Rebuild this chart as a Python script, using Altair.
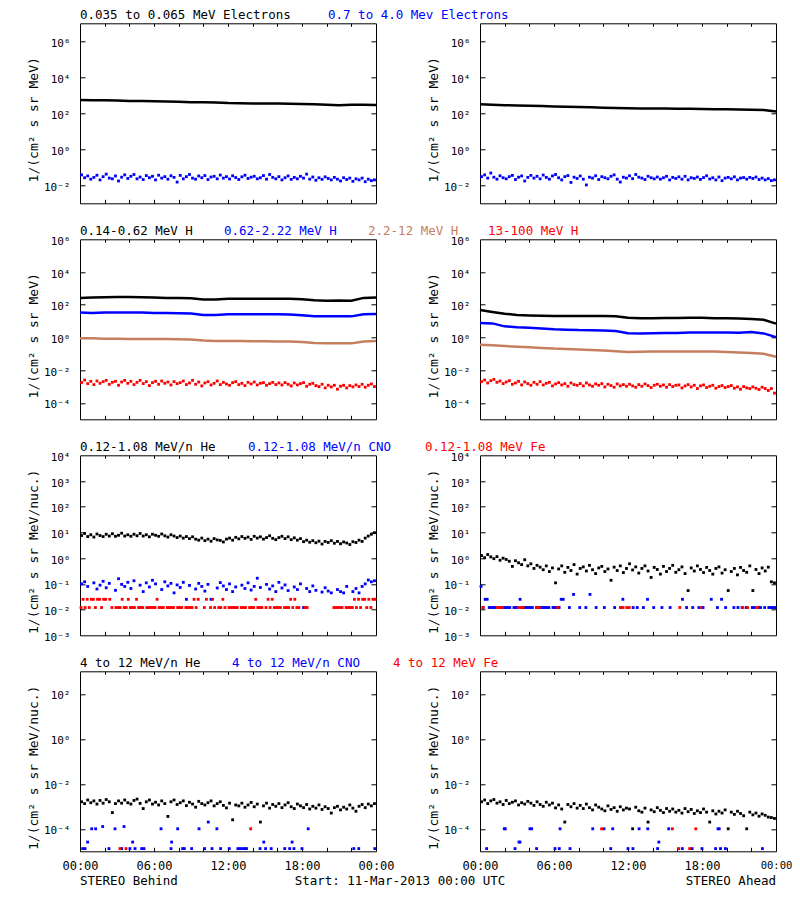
import altair as alt
import pandas as pd

MONO = "DejaVu Sans Mono"
W, H = 296, 180

BLACK, BLUE, BROWN, RED = "#000000", "#0000ff", "#c57f5f", "#ff0000"

# ---------------- time grids (hours after 11-Mar-2013 00:00 UTC) ----------------
HOURLY = list(range(25))
Q15 = [(i + 0.5) * 0.25 for i in range(96)]
M10 = [(i + 0.5) / 6 for i in range(144)]

# ---------------- Row 1: electrons (log10 flux) ----------------
B_E_LOW = [2.74, 2.73, 2.72, 2.71, 2.69, 2.68, 2.67, 2.66, 2.64, 2.62, 2.61, 2.60, 2.57,
           2.56, 2.55, 2.55, 2.54, 2.53, 2.52, 2.50, 2.47, 2.45, 2.47, 2.47, 2.46]
A_E_LOW = [2.50, 2.48, 2.45, 2.44, 2.42, 2.40, 2.38, 2.36, 2.35, 2.33, 2.31, 2.30, 2.28,
           2.27, 2.27, 2.26, 2.25, 2.25, 2.24, 2.23, 2.22, 2.21, 2.20, 2.18, 2.10]
B_E_HIGH = [-1.42, -1.58, -1.48, -1.66, -1.56, -1.44, -1.70, -1.52, -1.38, -1.60, -1.64, -1.48, -1.76, -1.55, -1.42, -1.62,
            -1.50, -1.40, -1.64, -1.54, -1.68, -1.46, -1.58, -1.50, -1.70, -1.44, -1.60, -1.52, -1.66, -1.47, -1.56, -1.82,
            -1.45, -1.64, -1.52, -1.40, -1.60, -1.66, -1.48, -1.58, -1.46, -1.68, -1.54, -1.50, -1.64, -1.43, -1.60, -1.52,
            -1.65, -1.47, -1.57, -1.68, -1.53, -1.44, -1.62, -1.55, -1.50, -1.64, -1.58, -1.46, -1.66, -1.40, -1.56, -1.64,
            -1.52, -1.70, -1.58, -1.48, -1.67, -1.56, -1.64, -1.50, -1.60, -1.38, -1.66, -1.54, -1.72, -1.58, -1.67, -1.53,
            -1.62, -1.70, -1.56, -1.66, -1.76, -1.58, -1.68, -1.60, -1.78, -1.64, -1.70, -1.60, -1.80, -1.66, -1.74, -1.70]
A_E_HIGH = [-1.52, -1.42, -1.60, -1.32, -1.55, -1.66, -1.47, -1.58, -1.64, -1.52, -1.45, -1.68, -1.55, -1.48, -1.76, -1.56,
            -1.45, -1.60, -1.50, -1.64, -1.43, -1.56, -1.66, -1.48, -1.40, -1.58, -1.70, -1.52, -1.46, -1.84, -1.55, -1.62,
            -1.48, -1.66, -1.98, -1.55, -1.60, -1.47, -1.68, -1.52, -1.58, -1.64, -1.50, -1.42, -1.66, -1.82, -1.55, -1.60,
            -1.47, -1.63, -1.40, -1.55, -1.60, -1.68, -1.50, -1.58, -1.64, -1.54, -1.66, -1.58, -1.50, -1.70, -1.56, -1.62,
            -1.53, -1.66, -1.50, -1.70, -1.58, -1.62, -1.54, -1.67, -1.57, -1.47, -1.65, -1.58, -1.70, -1.54, -1.74, -1.60,
            -1.56, -1.64, -1.53, -1.70, -1.60, -1.57, -1.66, -1.56, -1.62, -1.54, -1.68, -1.60, -1.70, -1.63, -1.74, -1.70]

# ---------------- Row 2: protons (log10 flux) ----------------
B_H1 = [2.42, 2.44, 2.46, 2.47, 2.47, 2.46, 2.44, 2.42, 2.42, 2.40, 2.32, 2.32, 2.36,
        2.37, 2.37, 2.37, 2.37, 2.36, 2.33, 2.27, 2.25, 2.26, 2.25, 2.42, 2.45]
B_H2 = [1.52, 1.50, 1.52, 1.53, 1.53, 1.52, 1.50, 1.49, 1.48, 1.46, 1.38, 1.38, 1.42,
        1.42, 1.42, 1.42, 1.42, 1.40, 1.36, 1.30, 1.29, 1.29, 1.29, 1.42, 1.44]
B_H3 = [-0.05, -0.05, -0.07, -0.08, -0.09, -0.10, -0.10, -0.10, -0.11, -0.12, -0.18, -0.22, -0.22,
        -0.22, -0.23, -0.23, -0.24, -0.24, -0.28, -0.33, -0.35, -0.36, -0.36, -0.25, -0.22]
B_H4 = [-2.75, -2.60, -2.82, -2.68, -2.88, -2.66, -2.80, -2.70, -2.62, -2.86, -2.74, -2.68, -2.92, -2.72, -2.62, -2.80,
        -2.68, -2.88, -2.74, -2.62, -2.82, -2.70, -2.94, -2.76, -2.68, -2.86, -2.66, -2.80, -2.72, -2.90, -2.70, -2.82,
        -2.76, -2.66, -2.88, -2.78, -2.62, -2.86, -2.72, -2.96, -2.78, -2.70, -2.90, -2.80, -2.66, -2.88, -2.74, -2.84,
        -2.92, -2.76, -2.70, -2.88, -2.80, -2.94, -2.74, -2.84, -2.72, -2.90, -2.80, -2.76, -2.92, -2.82, -2.74, -2.88,
        -2.78, -2.90, -2.76, -2.86, -2.96, -2.78, -2.90, -2.82, -2.76, -2.98, -2.86, -2.80, -2.94, -3.00, -2.86, -3.08,
        -2.92, -3.02, -2.92, -3.16, -2.98, -2.92, -3.08, -2.94, -3.02, -2.90, -3.00, -2.86, -3.04, -2.92, -2.84, -3.00]
A_H1 = [1.68, 1.56, 1.45, 1.38, 1.35, 1.33, 1.32, 1.32, 1.32, 1.31, 1.31, 1.30, 1.20,
        1.18, 1.18, 1.19, 1.19, 1.20, 1.20, 1.18, 1.17, 1.16, 1.13, 1.08, 0.85]
A_H2 = [0.88, 0.86, 0.68, 0.63, 0.60, 0.55, 0.50, 0.48, 0.45, 0.44, 0.42, 0.40, 0.26,
        0.25, 0.26, 0.27, 0.28, 0.30, 0.31, 0.30, 0.31, 0.29, 0.33, 0.25, 0.02]
A_H3 = [-0.45, -0.48, -0.52, -0.56, -0.60, -0.64, -0.68, -0.70, -0.73, -0.76, -0.80, -0.84, -0.88,
        -0.87, -0.86, -0.86, -0.86, -0.86, -0.85, -0.86, -0.88, -0.92, -0.95, -1.00, -1.18]
A_H4 = [-2.70, -2.60, -2.78, -2.64, -2.56, -2.74, -2.66, -2.82, -2.72, -2.64, -2.86, -2.78, -2.68, -2.90, -2.72, -2.82,
        -2.92, -2.74, -2.86, -2.70, -2.90, -2.80, -2.74, -2.96, -2.84, -2.76, -2.90, -2.82, -2.98, -2.78, -2.88, -2.92,
        -2.82, -2.96, -2.78, -2.90, -2.98, -2.84, -2.92, -2.82, -3.02, -2.86, -2.94, -3.04, -2.84, -2.96, -2.88, -2.98,
        -2.86, -2.96, -3.04, -2.88, -2.98, -2.84, -2.94, -3.06, -2.92, -2.86, -2.98, -2.90, -3.04, -2.88, -3.00, -2.92,
        -2.90, -3.08, -2.96, -2.88, -3.02, -2.92, -3.12, -2.96, -2.90, -3.06, -2.98, -2.92, -3.10, -3.00, -2.94, -3.06,
        -3.00, -2.94, -3.10, -3.02, -3.16, -3.00, -3.08, -3.12, -3.02, -3.10, -3.18, -3.04, -3.12, -3.24, -3.12, -3.40]

# ---------------- Row 3: suprathermal ions (log10 flux) ----------------
B_HE_LOW = [0.88, 0.96, 0.84, 0.91, 0.82, 0.94, 0.88, 0.84, 0.93, 0.86, 0.95, 0.85, 0.89, 0.97, 0.86, 0.91,
            0.85, 0.93, 0.87, 0.96, 0.86, 0.91, 0.83, 0.93, 0.89, 0.85, 0.94, 0.87, 0.82, 0.91, 0.86, 0.80,
            0.86, 0.78, 0.84, 0.76, 0.83, 0.74, 0.70, 0.78, 0.68, 0.74, 0.66, 0.76, 0.71, 0.69, 0.63, 0.74,
            0.78, 0.70, 0.81, 0.75, 0.84, 0.77, 0.82, 0.73, 0.85, 0.78, 0.83, 0.74, 0.80, 0.87, 0.77, 0.72,
            0.80, 0.85, 0.76, 0.83, 0.72, 0.79, 0.70, 0.76, 0.64, 0.70, 0.62, 0.68, 0.60, 0.66, 0.55, 0.65,
            0.61, 0.68, 0.58, 0.65, 0.56, 0.63, 0.59, 0.53, 0.64, 0.61, 0.70, 0.65, 0.78, 0.86, 0.93, 0.99]
B_CNO_LOW = [-1.00, -0.92, -1.10, None, -0.96, -1.20, -1.05, -0.90, -1.15, -0.98, None, -1.25, -0.80, -1.02, -1.10, -0.94,
             -1.18, -0.88, None, -1.05, -1.30, -0.96, -1.12, -0.86, -1.00, None, -1.22, -0.92, -1.08, -0.98, -1.35, -1.04,
             -1.14, -0.94, -1.60, -1.06, None, -1.20, -0.98, -1.10, -1.28, -1.02, -1.60, None, -1.16, -0.95, -1.08, -1.22,
             -1.00, -1.30, -1.12, None, -1.05, -1.18, -0.96, -1.24, -1.10, -0.78, -1.14, None, -1.02, -1.20, -1.08, -1.30,
             -0.94, -1.16, -1.04, -1.26, None, -1.12, -1.22, -1.00, -1.92, -1.18, -1.30, -1.08, -1.25, None, -1.32, -1.15,
             -1.28, -1.35, None, -1.22, -1.30, -1.35, -1.10, None, -1.30, -1.18, -1.35, -1.10, -1.00, -0.85, -0.92, -0.88]
# quantised count levels (10-min bins): 0 = no data
LEVELS_ROW3 = {1: -1.92, 2: -1.60, 3: -1.41, 4: -1.10}
B_FE_LOW = [1, 2, 1, 2, 1, 2, 2, 1, 2, 2, 1, 2, 2, 0, 2, 1, 0, 1, 1, 1, 2, 1, 1, 2,
            1, 1, 1, 2, 1, 1, 1, 0, 1, 1, 1, 1, 1, 2, 1, 1, 1, 0, 1, 1, 1, 1, 0, 1,
            1, 1, 0, 1, 1, 1, 1, 2, 1, 2, 0, 0, 1, 2, 0, 1, 2, 1, 0, 1, 1, 2, 1, 0,
            1, 1, 1, 1, 1, 0, 1, 1, 1, 0, 1, 1, 1, 2, 1, 1, 1, 0, 1, 2, 1, 2, 1, 1,
            1, 1, 0, 1, 1, 1, 2, 1, 2, 1, 1, 0, 0, 1, 1, 0, 0, 0, 0, 0, 0, 0, 0, 0,
            0, 0, 0, 1, 1, 1, 1, 1, 0, 1, 1, 1, 1, 2, 1, 2, 1, 2, 2, 1, 2, 1, 2, 2]
A_HE_LOW = [0.10, 0.02, 0.14, 0.05, -0.02, 0.06, -0.08, 0.00, -0.05, -0.12, -0.32, -0.10, -0.18, -0.25, -0.06, -0.30,
            -0.22, -0.40, -0.28, -0.35, -0.45, -0.30, -0.52, -0.38, -0.96, -0.42, -0.30, -0.55, -0.36, -0.48, -0.25, -0.62,
            -0.40, -0.34, -0.50, -0.28, -0.45, -0.60, -0.38, -0.32, -0.52, -0.42, -0.86, -0.35, -0.48, -0.30, -0.56, -0.40,
            -0.22, -0.46, -0.34, -0.58, -0.40, -0.30, -0.50, -0.75, -0.36, -0.44, -0.62, -0.32, -0.52, -0.40, -0.28, -0.55,
            -0.45, -0.34, -0.60, -1.26, -0.38, -0.50, -0.30, -0.44, -0.56, -0.36, -0.48, -0.62, -0.40, -0.34, -0.58, -0.45,
            -1.26, -0.52, -0.40, -0.65, -0.36, -0.48, -0.55, -0.30, -1.26, -0.44, -0.60, -0.38, -0.50, -0.35, -0.92, -0.96]
A_CNO_LOW = [4, 1, 2, 2, 1, 1, 1, 1, 0, 1, 1, 1, 1, 1, 1, 0, 1, 1, 1, 2, 1, 1, 1, 1,
             1, 1, 0, 1, 1, 1, 1, 1, 1, 1, 0, 1, 1, 1, 1, 2, 2, 0, 0, 1, 0, 3, 0, 0,
             1, 0, 0, 1, 0, 3, 0, 0, 1, 0, 0, 0, 1, 0, 0, 0, 0, 1, 0, 0, 1, 2, 0, 0,
             0, 0, 1, 0, 1, 0, 0, 1, 0, 2, 0, 0, 1, 0, 0, 0, 1, 0, 0, 0, 1, 0, 0, 0,
             0, 0, 2, 0, 1, 0, 0, 1, 0, 0, 1, 0, 1, 0, 0, 0, 2, 0, 0, 1, 0, 2, 0, 1,
             0, 0, 0, 1, 0, 1, 0, 1, 0, 1, 0, 0, 1, 1, 0, 1, 1, 0, 1, 0, 1, 1, 1, 1]
A_FE_LOW_HOURS = [0.25, 1.4, 1.6, 1.8, 3.1, 3.3, 3.5, 4.6, 4.8, 6.3, 11.4, 11.6, 11.9, 12.1,
                  16.2, 17.9, 21.3, 21.7, 22.5]
A_FE_LOW = [-1.92] * len(A_FE_LOW_HOURS)

# ---------------- Row 4: energetic ions (log10 flux) ----------------
B_HE_HIGH = [-2.80, -2.88, -2.72, -2.84, -2.76, -2.90, -2.74, -2.86, -2.70, -2.80, -3.28, -2.88, -2.76, -2.86, -2.72, -2.84,
             -2.90, -2.74, -2.68, -2.87, -3.10, -2.80, -2.72, -2.90, -2.82, -2.94, -2.76, -2.88, -3.45, -2.80, -2.72, -2.92,
             -2.84, -2.76, -2.97, -2.82, -2.90, -3.04, -2.78, -2.88, -2.94, -2.84, -2.76, -2.98, -2.88, -2.80, -2.96, -3.07,
             -2.86, -3.60, -2.94, -2.98, -2.86, -3.04, -2.94, -2.83, -3.02, -2.90, -3.70, -2.98, -2.86, -3.08, -2.92, -3.00,
             -2.88, -3.06, -2.94, -2.84, -3.02, -3.10, -2.90, -2.98, -3.06, -2.92, -3.12, -3.00, -3.08, -2.94, -3.14, -3.02,
             -3.10, -3.30, -3.06, -3.00, -3.16, -3.04, -3.12, -2.94, -3.08, -3.22, -3.00, -2.92, -3.06, -2.90, -2.98, -2.88]
B_CNO_HIGH_HOURS = [0.95, 1.27, 2.84, 6.57, 7.92, 9.65, 11.1, 18.5, 1.84, 3.57, 10.4,
                    0.62, 4.27, 7.43, 14.9, 17.2,
                    0.22, 0.41, 2.35, 3.38, 4.05, 4.46, 5.0, 5.19, 7.38, 8.32, 8.46, 9.05, 10.1, 10.7,
                    11.4, 12.1, 12.8, 13.0, 13.2, 13.4, 13.5, 14.6, 15.05, 15.5, 16.6, 17.0, 17.35,
                    18.0, 22.2, 22.6, 23.9]
B_CNO_HIGH = [-4.0] * 8 + [-3.9, -3.9, -3.7] + [-4.59] * 5 + [-4.88] * 31
B_FE_HIGH_HOURS = [3.24, 3.73, 13.84]
B_FE_HIGH = [-4.88, -4.88, -4.0]
A_HE_HIGH = [-2.80, -2.72, -2.88, -2.76, -2.70, -2.86, -2.80, -2.92, -2.74, -2.88, -2.82, -2.76, -2.94, -2.84, -2.90, -2.78,
             -2.86, -2.96, -2.80, -2.92, -3.00, -2.82, -2.94, -2.86, -3.07, -2.94, -3.12, -3.70, -2.92, -3.02, -2.88, -3.08,
             -2.96, -3.10, -2.90, -3.06, -3.16, -2.94, -3.04, -3.12, -3.20, -2.98, -3.14, -3.06, -3.22, -3.02, -3.16, -3.08,
             -3.12, -4.00, -3.04, -3.20, -3.26, -3.08, -3.70, -3.16, -3.24, -3.06, -3.18, -3.28, -3.10, -3.22, -3.12, -3.26,
             -3.18, -3.30, -3.10, -3.24, -3.14, -3.32, -3.20, -3.28, -3.12, -3.26, -3.70, -3.20, -3.34, -3.22, -3.30, -3.16,
             -4.00, -3.26, -3.36, -3.22, -3.32, -3.42, -4.00, -3.26, -3.38, -3.30, -3.44, -3.34, -3.40, -3.48, -3.50, -3.54]
A_CNO_HIGH_HOURS = [1.97, 2.05, 4.05, 4.19, 6.49, 9.14, 10.05, 10.76, 12.9, 13.6, 15.3, 19.3, 19.4,
                    3.16, 3.24, 14.5,
                    0.54, 2.84, 4.59, 6.08, 6.43, 7.3, 10.6, 12.0, 12.4, 14.4, 16.4, 17.2, 18.0, 19.1,
                    19.5, 19.9, 22.9]
A_CNO_HIGH = [-4.0] * 13 + [-4.59] * 3 + [-4.88] * 17
A_FE_HIGH_HOURS = [9.86, 15.6, 17.5, 16.1, 17.0]
A_FE_HIGH = [-4.0, -4.0, -4.0, -4.88, -4.88]

# ---------------- text ----------------
ROW_TITLES = [
    [("0.035 to 0.065 MeV Electrons", BLACK, 0), ("0.7 to 4.0 Mev Electrons", BLUE, 248)],
    [("0.14-0.62 MeV H", BLACK, 0), ("0.62-2.22 MeV H", BLUE, 144),
     ("2.2-12 MeV H", BROWN, 288), ("13-100 MeV H", RED, 408)],
    [("0.12-1.08 MeV/n He", BLACK, 0), ("0.12-1.08 MeV/n CNO", BLUE, 168),
     ("0.12-1.08 MeV Fe", RED, 345)],
    [("4 to 12 MeV/n He", BLACK, 0), ("4 to 12 MeV/n CNO", BLUE, 152),
     ("4 to 12 MeV Fe", RED, 313)],
]
Y_TITLES = ["1/(cm² s sr MeV)", "1/(cm² s sr MeV)",
            "1/(cm² s sr MeV/nuc.)", "1/(cm² s sr MeV/nuc.)"]
Y_DOMAINS = [[1e-3, 1e7], [1e-5, 1e6], [1e-3, 1e4], [1e-5, 1e3]]
Y_LABEL_VALUES = [[1e-2, 1, 1e2, 1e4, 1e6], [1e-4, 1e-2, 1, 1e2, 1e4, 1e6],
                  [1e-3, 1e-2, 1e-1, 1, 1e1, 1e2, 1e3, 1e4], [1e-4, 1e-2, 1, 1e2]]
X_LABEL_HOURS = [0, 6, 12, 18, 24]
X_TICK_HOURS = list(range(2, 24, 2))
FOOTER = [("STEREO Behind", "left", 0), ("Start: 11-Mar-2013 00:00 UTC", "center", 320),
          ("STEREO Ahead", "right", 696)]

SUP = "['⁻⁵','⁻⁴','⁻³','⁻²','⁻¹','⁰','¹','²','³','⁴','⁵','⁶','⁷']"
YLAB = "'10' + " + SUP + "[round(log(datum.value) / LN10) + 5]"
XLAB = ("(datum.value == 0 || datum.value == 24) ? '00:00' : "
        "((datum.value < 10 ? '0' : '') + datum.value + ':00')")


def df_log(hours, logs):
    rows = [(h, 10 ** v) for h, v in zip(hours, logs) if v is not None]
    return pd.DataFrame(rows, columns=["h", "v"])


def df_levels(hours, counts, table):
    rows = [(h, 10 ** table[c]) for h, c in zip(hours, counts) if c]
    return pd.DataFrame(rows, columns=["h", "v"])


def panel(series, row, show_x, texts, shrink_last=False):
    ydom = Y_DOMAINS[row]
    yvals = Y_LABEL_VALUES[row]
    yticks = [v for v in yvals if ydom[0] < v < ydom[1]]
    xs = alt.Scale(domain=[0, 24], nice=False, zero=False)
    ys = alt.Scale(type="log", domain=ydom, nice=False, clamp=True)
    common = dict(grid=False, domain=False, title=None, tickColor="black", tickWidth=1)

    xlab_size = ({"condition": {"test": "datum.value == 24", "value": 10.5}, "value": 12}
                 if shrink_last else 12)
    lab_x = alt.Axis(orient="bottom", values=X_LABEL_HOURS, labelExpr=XLAB, ticks=False, tickSize=0,
                     labels=show_x, labelPadding=9, labelFlush=False, labelOverlap=False,
                     labelFont=MONO, labelFontSize=xlab_size, labelColor="black", grid=False,
                     domain=False, title=None)
    lab_y = alt.Axis(orient="left", values=yvals, labelExpr=YLAB, ticks=False, tickSize=0,
                     labelPadding=10, labelFlush=False, labelOverlap=False, labelFont=MONO,
                     labelFontSize=11, labelColor="black", labelOffset=2, grid=False, domain=False,
                     title=Y_TITLES[row], titleFont=MONO, titleFontSize=13, titleFontWeight="normal",
                     titleColor="black", titleX=-47, titleY=96, titleAlign="center", titleBaseline="middle")
    layers = []
    for i, (kind, df, color) in enumerate(series):
        xa = lab_x if i == 0 else None
        ya = lab_y if i == 0 else None
        if kind == "line":
            m = alt.Chart(df).mark_line(color=color, strokeWidth=2.5)
        else:
            m = alt.Chart(df).mark_square(color=color, size=8, opacity=1)
        layers.append(m.encode(x=alt.X("h:Q", scale=xs, axis=xa), y=alt.Y("v:Q", scale=ys, axis=ya)))

    first_df = series[0][1]
    # inward ticks: left & bottom edges
    layers.append(alt.Chart(first_df).mark_point(opacity=0).encode(
        x=alt.X("h:Q", scale=xs, axis=alt.Axis(orient="top", offset=-H, values=X_TICK_HOURS,
                                                 labels=False, tickSize=4, **common)),
        y=alt.Y("v:Q", scale=ys, axis=alt.Axis(orient="right", offset=-W, values=yticks,
                                                 labels=False, tickSize=5, **common))))
    # inward ticks: right & top edges
    layers.append(alt.Chart(first_df).mark_point(opacity=0).encode(
        x=alt.X("h:Q", scale=xs, axis=alt.Axis(orient="bottom", offset=-H, values=X_TICK_HOURS,
                                                 labels=False, tickSize=3, **common)),
        y=alt.Y("v:Q", scale=ys, axis=alt.Axis(orient="left", offset=-W, values=yticks,
                                                 labels=False, tickSize=5, **common))))
    for (t, color, px, py, align) in texts:
        layers.append(alt.Chart(alt.Data(values=[{}])).mark_text(
            text=t, color=color, align=align, baseline="middle", font=MONO, fontSize=12.5
        ).encode(x=alt.value(px), y=alt.value(py)))
    return alt.layer(*layers).resolve_axis(x="independent", y="independent").properties(width=W, height=H)


def titles(row):
    return [(t, c, px, -8.5, "left") for (t, c, px) in ROW_TITLES[row]]


footer = [(t, BLACK, px, 210, a) for (t, a, px) in FOOTER]

panels = [
    panel([("line", df_log(HOURLY, B_E_LOW), BLACK), ("pts", df_log(Q15, B_E_HIGH), BLUE)], 0, False, titles(0)),
    panel([("line", df_log(HOURLY, A_E_LOW), BLACK), ("pts", df_log(Q15, A_E_HIGH), BLUE)], 0, False, []),
    panel([("line", df_log(HOURLY, B_H1), BLACK), ("line", df_log(HOURLY, B_H2), BLUE),
           ("line", df_log(HOURLY, B_H3), BROWN), ("pts", df_log(Q15, B_H4), RED)], 1, False, titles(1)),
    panel([("line", df_log(HOURLY, A_H1), BLACK), ("line", df_log(HOURLY, A_H2), BLUE),
           ("line", df_log(HOURLY, A_H3), BROWN), ("pts", df_log(Q15, A_H4), RED)], 1, False, []),
    panel([("pts", df_log(Q15, B_HE_LOW), BLACK), ("pts", df_log(Q15, B_CNO_LOW), BLUE),
           ("pts", df_levels(M10, B_FE_LOW, LEVELS_ROW3), RED)], 2, False, titles(2)),
    panel([("pts", df_log(Q15, A_HE_LOW), BLACK), ("pts", df_levels(M10, A_CNO_LOW, LEVELS_ROW3), BLUE),
           ("pts", df_log(A_FE_LOW_HOURS, A_FE_LOW), RED)], 2, False, []),
    panel([("pts", df_log(Q15, B_HE_HIGH), BLACK), ("pts", df_log(B_CNO_HIGH_HOURS, B_CNO_HIGH), BLUE),
           ("pts", df_log(B_FE_HIGH_HOURS, B_FE_HIGH), RED)], 3, True, titles(3) + footer),
    panel([("pts", df_log(Q15, A_HE_HIGH), BLACK), ("pts", df_log(A_CNO_HIGH_HOURS, A_CNO_HIGH), BLUE),
           ("pts", df_log(A_FE_HIGH_HOURS, A_FE_HIGH), RED)], 3, True, [], shrink_last=True),
]

# fixed canvas: plot origin of the first panel sits at (72, 15.3) inside a 784 x 880 canvas
chart = alt.concat(*panels, columns=2, spacing={"row": 36, "column": 104}, bounds="flush").properties(
    autosize=alt.AutoSizeParams(type="none"),
    padding={"left": 72, "top": 15.3, "right": 712, "bottom": 864.7}, background="white"
).configure_view(stroke="black", strokeWidth=1).configure_axis(grid=False)

chart.save("out.html", embed_options={"renderer": "svg", "actions": False})
